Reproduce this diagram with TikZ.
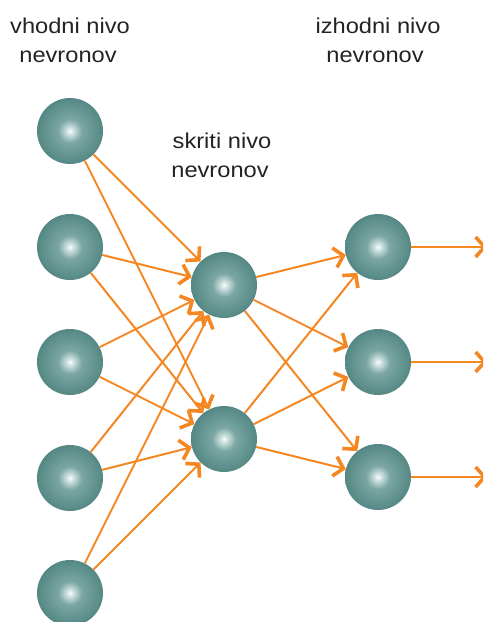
\documentclass[tikz,border=0pt]{standalone}
\usepackage{fontspec}
\setmainfont{Liberation Sans}[FakeStretch=1.1]
\usetikzlibrary{arrows.meta}
\definecolor{nc0}{RGB}{252,254,254}
\definecolor{nc1}{RGB}{215,232,230}
\definecolor{nc2}{RGB}{122,166,163}
\definecolor{nc3}{RGB}{82,134,130}
\definecolor{nc4}{RGB}{46,102,99}
\definecolor{arrowc}{RGB}{245,135,35}
\definecolor{txtc}{RGB}{35,35,35}
\pgfdeclareradialshading{neuronshade}{\pgfpoint{0bp}{0bp}}{color(0bp)=(nc0); color(2bp)=(nc1); color(9bp)=(nc2); color(26bp)=(nc3); color(50bp)=(nc4)}
\begin{document}
\begin{tikzpicture}[x=1pt,y=-1pt,
  neuron/.style={circle,minimum size=66pt,inner sep=0pt,shading=neuronshade},
  conn/.style={draw=arrowc,line width=2pt,-{Straight Barb[length=9pt,width=20pt,line width=3.6pt]}},
  lbl/.style={anchor=base,text=txtc,font=\fontsize{21.5}{29}\selectfont,align=center}]
\useasboundingbox (0,0) rectangle (483,622);
\clip (0,0) rectangle (483,622);
% labels
\node[lbl] (t1a) at (70,33) {vhodni nivo};
\node[lbl] (t1b) at (68,62) {nevronov};
\node[lbl] (t2a) at (222,148) {skriti nivo};
\node[lbl] (t2b) at (220,177) {nevronov};
\node[lbl] (t3a) at (378,33) {izhodni nivo};
\node[lbl] (t3b) at (375,62) {nevronov};
% neurons
\node[neuron] (I1) at (70,131) {};
\node[neuron] (I2) at (70,247) {};
\node[neuron] (I3) at (70,362) {};
\node[neuron] (I4) at (70,478) {};
\node[neuron] (I5) at (70,593) {};
\node[neuron] (H1) at (224,285) {};
\node[neuron] (H2) at (224,439) {};
\node[neuron] (O1) at (378,247) {};
\node[neuron] (O2) at (378,362) {};
\node[neuron] (O3) at (378,477) {};
\coordinate (e1) at (487,247);
\coordinate (e2) at (487,362);
\coordinate (e3) at (487,477);
% connectors
\foreach \a in {I1,I2,I3,I4,I5}{
  \foreach \b in {H1,H2}{
    \draw[conn] (\a) -- (\b);
  }
}
\foreach \a in {H1,H2}{
  \foreach \b in {O1,O2,O3}{
    \draw[conn] (\a) -- (\b);
  }
}
\draw[conn] (O1) -- (e1);
\draw[conn] (O2) -- (e2);
\draw[conn] (O3) -- (e3);
\end{tikzpicture}
\end{document}
